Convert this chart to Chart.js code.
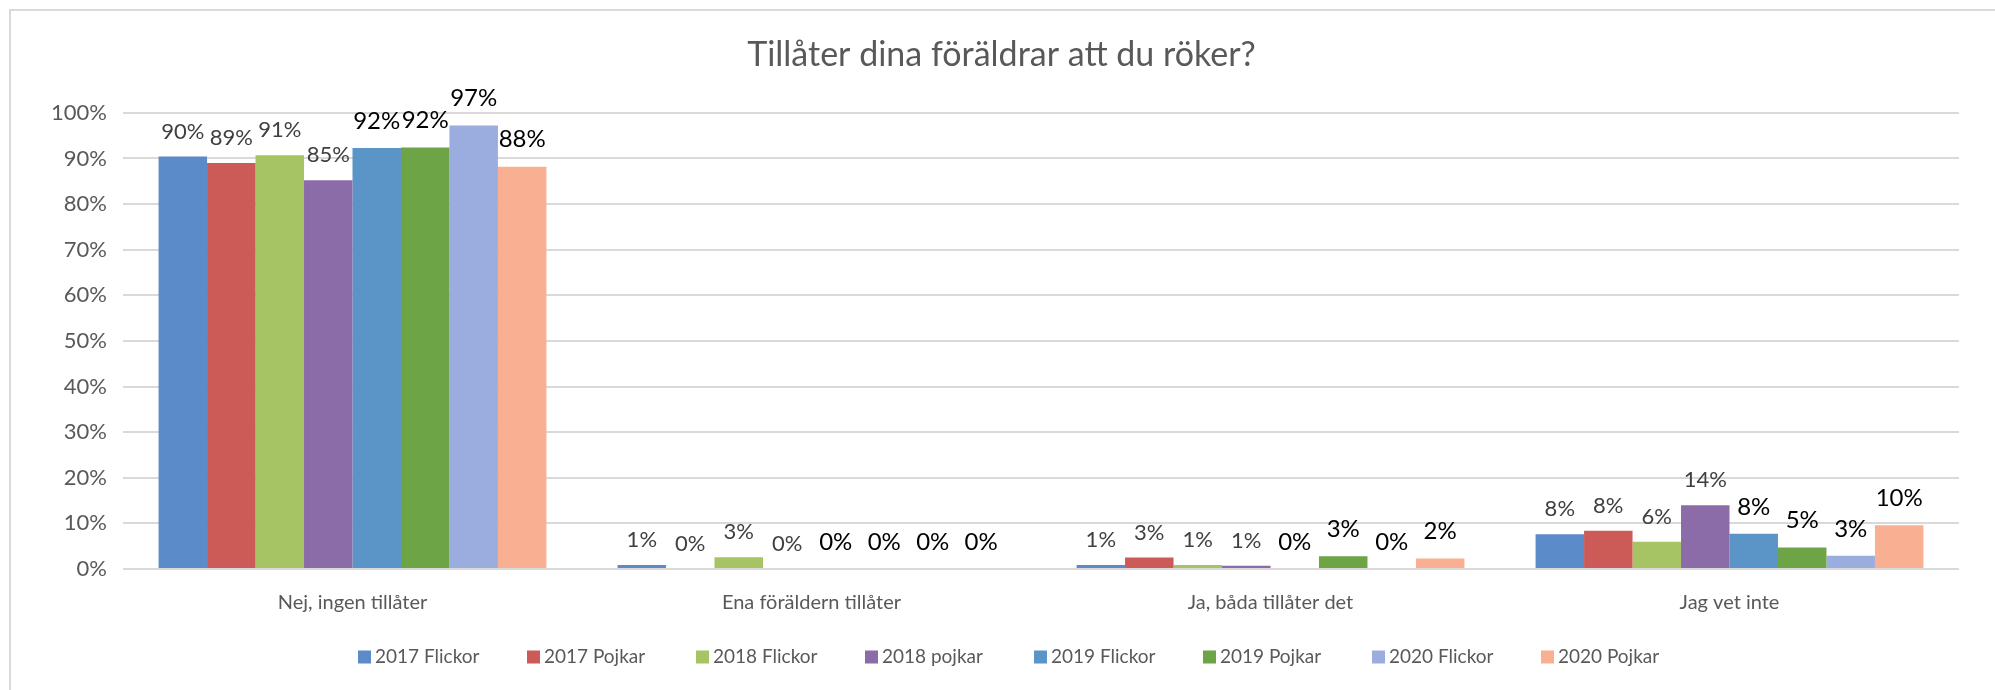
<!DOCTYPE html>
<html>
<head>
<meta charset="utf-8">
<script src="https://cdn.jsdelivr.net/npm/chart.js@4.4.0/dist/chart.umd.min.js"></script>
<style>
  html, body { margin: 0; padding: 0; background: #fff; overflow: hidden; }
  #frame { position: absolute; left: 9px; top: 9px; width: 2100px; height: 800px;
           border-left: 2px solid #d9d9d9; border-top: 2px solid #d9d9d9; }
  #wrap { position: absolute; left: 0; top: 0; width: 1995px; height: 690px; }
</style>
</head>
<body>
<div id="frame"></div>
<div id="wrap"><canvas id="myChart"></canvas></div>
<script>
const categories = ["Nej, ingen tillåter", "Ena föräldern tillåter", "Ja, båda tillåter det", "Jag vet inte"];
const seriesNames = ["2017 Flickor", "2017 Pojkar", "2018 Flickor", "2018 pojkar", "2019 Flickor", "2019 Pojkar", "2020 Flickor", "2020 Pojkar"];
const seriesColors = ["#5b8bc8", "#cc5b57", "#a6c463", "#8b6ca9", "#5b94c7", "#6ca446", "#9badde", "#f9af91"];

// values in percent
const flickor2017 = [90.4, 0.9, 0.9, 7.6];
const pojkar2017 = [89.0, 0.0, 2.5, 8.4];
const flickor2018 = [90.7, 2.6, 0.9, 6.0];
const pojkar2018 = [85.2, 0.0, 0.7, 14.0];
const flickor2019 = [92.3, 0.0, 0.0, 7.7];
const pojkar2019 = [92.4, 0.0, 2.8, 4.7];
const flickor2020 = [97.2, 0.0, 0.0, 2.9];
const pojkar2020 = [88.2, 0.0, 2.3, 9.6];
const seriesValues = [flickor2017, pojkar2017, flickor2018, pojkar2018, flickor2019, pojkar2019, flickor2020, pojkar2020];

const yTicks = [0, 10, 20, 30, 40, 50, 60, 70, 80, 90, 100];

const FONT = "Lato";
const TEXT_GREY = "#595959";

// value labels above each bar; first four series grey/smaller, last four black/larger
const barLabels = {
  id: "barLabels",
  afterDatasetsDraw(chart) {
    const ctx = chart.ctx;
    ctx.save();
    ctx.textAlign = "center";
    ctx.textBaseline = "middle";
    chart.data.datasets.forEach((ds, i) => {
      const meta = chart.getDatasetMeta(i);
      const dark = i >= 4;
      ctx.font = (dark ? "24px " : "22px ") + FONT;
      ctx.fillStyle = dark ? "#000000" : "#404040";
      meta.data.forEach((bar, j) => {
        ctx.fillText(Math.round(ds.data[j]) + "%", bar.x, bar.y - (dark ? 27 : 25));
      });
    });
    ctx.restore();
  }
};

// Excel-style legend with equal slots under the plot
const slotLegend = {
  id: "slotLegend",
  afterDraw(chart) {
    const ctx = chart.ctx;
    const slot = 169, box = 13, y = 657;
    const cx = 1009;
    const n = chart.data.datasets.length;
    let x = cx - (n * slot) / 2 + 25;
    ctx.save();
    ctx.font = "19px " + FONT;
    ctx.textBaseline = "middle";
    ctx.textAlign = "left";
    chart.data.datasets.forEach((ds) => {
      ctx.fillStyle = ds.backgroundColor;
      ctx.fillRect(x, y - box / 2, box, box);
      ctx.fillStyle = TEXT_GREY;
      ctx.fillText(ds.label, x + box + 4, y);
      x += slot;
    });
    ctx.restore();
  }
};

new Chart(document.getElementById("myChart").getContext("2d"), {
  type: "bar",
  data: {
    labels: categories,
    datasets: seriesNames.map((name, i) => ({
      label: name,
      data: seriesValues[i],
      backgroundColor: seriesColors[i],
      borderWidth: 0,
      categoryPercentage: 0.845,
      barPercentage: 1.0,
    })),
  },
  options: {
    responsive: true,
    maintainAspectRatio: false,
    animation: false,
    layout: { padding: { left: 44, right: 36, top: 0, bottom: 70 } },
    plugins: {
      legend: { display: false },
      tooltip: { enabled: false },
      title: {
        display: true,
        text: "Tillåter dina föräldrar att du röker?",
        color: TEXT_GREY,
        font: { family: FONT, size: 34, weight: "normal", lineHeight: 1.2 },
        padding: { top: 35, bottom: 37 },
      },
    },
    scales: {
      x: {
        grid: { display: false },
        border: { display: false },
        ticks: { color: TEXT_GREY, font: { family: FONT, size: 20 }, padding: 14 },
        afterFit: (scale) => { scale.height = 51; },
      },
      y: {
        min: 0,
        max: 100,
        afterBuildTicks: (scale) => { scale.ticks = yTicks.map((v) => ({ value: v })); },
        grid: { color: "#d9d9d9", lineWidth: 2, drawTicks: false },
        border: { display: false },
        ticks: { color: TEXT_GREY, font: { family: FONT, size: 22 }, padding: 16,
                 callback: (v) => v + "%" },
        afterFit: (scale) => { scale.width = 79; },
      },
    },
  },
  plugins: [barLabels, slotLegend],
});
</script>
</body>
</html>
